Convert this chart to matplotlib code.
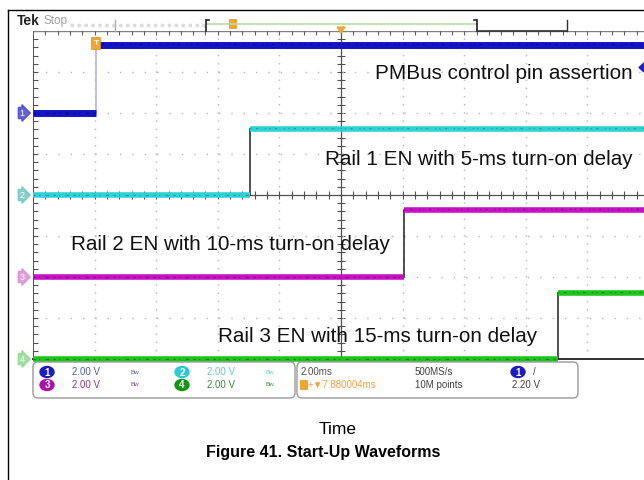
import numpy as np
import matplotlib.pyplot as plt
from matplotlib.patches import FancyBboxPatch, Ellipse, Polygon, Rectangle
from matplotlib.transforms import blended_transform_factory

plt.rcParams['font.family'] = ['Liberation Sans', 'DejaVu Sans']

# scope settings
volts_per_div = 2.0
ms_per_div = 2.0
t_start = -2.05          # ms at left edge of screen
n_hdiv = 10
n_vdiv = 8

# channel data
channels = ['1', '2', '3', '4']
colors = ['#1414c4', '#2ed2d6', '#c412c4', '#1cc41c']
dark_colors = ['#00006a', '#107878', '#6a006a', '#0a5a0a']
edge_colors = ['#b4b4e6', '#303030', '#303030', '#303030']
marker_colors = ['#4848d0', '#70c8c0', '#d890d4', '#94d894']
offsets_div = [2.0, 0.0, -2.0, -4.0]
edge_ms = [0.0, 5.0, 10.0, 15.0]
low_v = [0.0, 0.0, 0.0, 0.0]
high_v = [3.3, 3.2, 3.25, 3.2]
labels = ['PMBus control pin assertion',
          'Rail 1 EN with 5-ms turn-on delay',
          'Rail 2 EN with 10-ms turn-on delay',
          'Rail 3 EN with 15-ms turn-on delay']
label_pos = [(375, 79), (325, 165), (71, 250), (218, 342)]

W, H = 644, 480
fig = plt.figure(figsize=(W / 100, H / 100), dpi=100)

# pixel-coordinate layer for the frame, readouts and captions
fg = fig.add_axes([0, 0, 1, 1], zorder=3)
fg.set_xlim(0, W)
fg.set_ylim(H, 0)
fg.axis('off')
fg.patch.set_alpha(0)

# scope screen
x0, x1, y0, y1 = 33, 649, 31, 359
ax = fig.add_axes([x0 / W, 1 - y1 / H, (x1 - x0) / W, (y1 - y0) / H], zorder=2)
t_end = t_start + n_hdiv * ms_per_div
ax.set_xlim(t_start, t_end)
ax.set_ylim(-n_vdiv / 2, n_vdiv / 2)
ax.axis('off')
ax.patch.set_alpha(0)

# graticule
for k in range(1, n_hdiv):
    xv = t_start + k * ms_per_div
    if k == 5:
        ax.axvline(xv, color='#505050', lw=0.9, zorder=1)
        yt = np.arange(-4, 4.01, 0.2)
        ax.plot(np.full_like(yt, xv), yt, ls='none', marker='_', ms=6,
                color='#505050', mew=0.8, zorder=1)
    else:
        ax.axvline(xv, color='#b4b4b4', lw=1.0, ls=(0, (1, 4.9)), zorder=1)
for j in range(-3, 4):
    if j == 0:
        ax.axhline(0, color='#505050', lw=0.9, zorder=1)
        xt = np.arange(t_start, t_end + 0.01, ms_per_div / 5)
        ax.plot(xt, np.zeros_like(xt), ls='none', marker='|', ms=6,
                color='#505050', mew=0.8, zorder=1)
    else:
        ax.axhline(j, color='#b4b4b4', lw=1.0, ls=(0, (1, 7.9)), zorder=1)

# screen edges
ax.axvline(t_start, color='#404040', lw=1.3, zorder=1)
yt = np.arange(-4, 4.01, 0.2)
ax.plot(np.full_like(yt, t_start), yt, ls='none', marker='_', ms=7,
        color='#505050', mew=0.8, zorder=1)
ax.axhline(4, color='#808080', lw=1.0, zorder=1)
xt = np.arange(t_start, t_end + 0.01, ms_per_div / 5)
ax.plot(xt, np.full_like(xt, 4), ls='none', marker='|', ms=6,
        color='#606060', mew=0.8, zorder=1)
ax.plot([t_start, t_end], [-4, -4], color='#303030', lw=1.4, zorder=1,
        clip_on=False)

# traces
tr = blended_transform_factory(ax.transAxes, ax.transData)
for i in range(4):
    lo = offsets_div[i] + low_v[i] / volts_per_div
    hi = offsets_div[i] + high_v[i] / volts_per_div
    e = edge_ms[i]
    lw = 5.0 if i == 0 else 4.0
    ax.plot([e, e], [lo, hi], color=edge_colors[i], lw=1.2, zorder=3)
    ax.plot([t_start, e], [lo, lo], color=colors[i], lw=lw,
            solid_capstyle='butt', zorder=4, clip_on=False)
    ax.plot([e, t_end], [hi, hi], color=colors[i], lw=lw,
            solid_capstyle='butt', zorder=4, clip_on=False)
    # speckle on the trace
    ax.plot([t_start, e], [lo, lo], color=dark_colors[i], lw=0.8,
            ls=(0, (2, 3, 1, 5, 3, 4)), alpha=0.6, zorder=5, clip_on=False)
    ax.plot([e, t_end], [hi + 0.03, hi + 0.03], color=dark_colors[i], lw=0.8,
            ls=(0, (1, 4, 2, 6, 1, 3)), alpha=0.6, zorder=5, clip_on=False)
    # channel reference marker on the left
    ax.text(-0.018, offsets_div[i], channels[i], transform=tr, ha='center',
            va='center', fontsize=6.5, color='white', clip_on=False, zorder=6,
            bbox=dict(boxstyle='rarrow,pad=0.12', fc=marker_colors[i],
                      ec=marker_colors[i], alpha=0.85))

# annotations
for txt, (lx, ly) in zip(labels, label_pos):
    fg.text(lx, ly, txt, fontsize=14.9, ha='left', va='baseline', color='#111111')
fg.add_patch(Polygon([[644, 63], [639, 67.5], [644, 72]], closed=True,
                     color='#2020d0', zorder=5))

# outer frame
fg.plot([8, 8], [10, H], color='black', lw=1.0)
fg.plot([8, W], [10, 10], color='black', lw=1.0)

# top status bar
fg.text(17, 21, 'Tek', fontsize=10, fontweight='bold', color='#222222',
        ha='left', va='center')
fg.text(44, 21, 'Stop', fontsize=8.5, color='#a0a0a0', ha='left', va='center')
fg.plot([70, 205], [25, 25], color='#dcdcdc', lw=2.5, ls=(0, (1, 1)))
fg.plot([206, 477], [24, 24], color='#b8dca8', lw=1.2)
for bx in (206, 477):
    fg.plot([bx, bx], [20, 31], color='#202020', lw=1.2)
fg.plot([207, 209], [20, 20], color='#202020', lw=1.2)
fg.plot([474, 476], [20, 20], color='#202020', lw=1.2)
fg.plot([115, 115], [20, 31], color='#b0b0b0', lw=1.0)
fg.plot([567, 567], [20, 31], color='#303030', lw=1.0)
fg.plot([477, 567], [31, 31], color='#303030', lw=1.2)
fg.add_patch(FancyBboxPatch((230, 20), 6, 8, boxstyle='round,pad=0.5',
                            fc='#f0a830', ec='#e09020', lw=0.5))
fg.add_patch(Polygon([[337, 27], [345, 27], [341, 33]], closed=True,
                     color='#f0a830'))
# trigger point marker
fg.add_patch(FancyBboxPatch((92, 38), 8, 11, boxstyle='round,pad=0.6',
                            fc='#f0a830', ec='#e09020', lw=0.5, zorder=6))
fg.text(96, 43.5, 'T', fontsize=6, color='white', ha='center', va='center',
        fontweight='bold', zorder=7)

# readout panels
fg.add_patch(FancyBboxPatch((33, 362), 262, 36,
                            boxstyle='round,pad=0,rounding_size=5',
                            fc='white', ec='#9a9a9a', lw=1.0))
fg.add_patch(FancyBboxPatch((297, 362), 281, 36,
                            boxstyle='round,pad=0,rounding_size=5',
                            fc='white', ec='#9a9a9a', lw=1.0))

ch_readout = [('1', 47, 372, '#1c1cc0', '#5a5aa4'),
              ('2', 182, 372, '#30c8d0', '#60c8cc'),
              ('3', 47, 385, '#a812a8', '#8a3a8a'),
              ('4', 182, 385, '#149414', '#3a8a3a')]
for num, cx, cy, fc, tc in ch_readout:
    fg.add_patch(Ellipse((cx, cy), 14, 11, fc=fc, ec=fc))
    fg.text(cx, cy + 0.5, num, fontsize=7, color='white', ha='center',
            va='center', fontweight='bold')
    fg.text(cx + 25, cy, '2.00 V', fontsize=7, color=tc, ha='left', va='center')
    fg.text(cx + 88, cy, 'Bw', fontsize=4.5, color=tc, ha='center', va='center')

fg.text(301, 372, '2.00ms', fontsize=7, color='#505050', ha='left', va='center')
fg.add_patch(Rectangle((300, 380), 7, 9, fc='#f0a830', ec='#e09020', lw=0.5))
fg.text(308, 385, '+\u25bc7.880004ms', fontsize=7, color='#f0a040', ha='left',
        va='center')
fg.text(415, 372, '500MS/s', fontsize=7, color='#404040', ha='left', va='center')
fg.text(415, 385, '10M points', fontsize=7, color='#404040', ha='left',
        va='center')
fg.add_patch(Ellipse((518, 372), 14, 11, fc='#1c1cc0', ec='#1c1cc0'))
fg.text(518, 372.5, '1', fontsize=7, color='white', ha='center', va='center',
        fontweight='bold')
fg.text(534, 372, '/', fontsize=7, color='#404040', ha='center', va='center')
fg.text(512, 385, '2.20 V', fontsize=7, color='#404040', ha='left', va='center')

# captions
fg.text(338, 430, 'Time', fontsize=12.5, ha='center', va='center', color='black')
fg.text(323, 453, 'Figure 41. Start-Up Waveforms', fontsize=11.5,
        fontweight='bold', ha='center', va='center', color='black')

fig.savefig('out.png', dpi=100)
